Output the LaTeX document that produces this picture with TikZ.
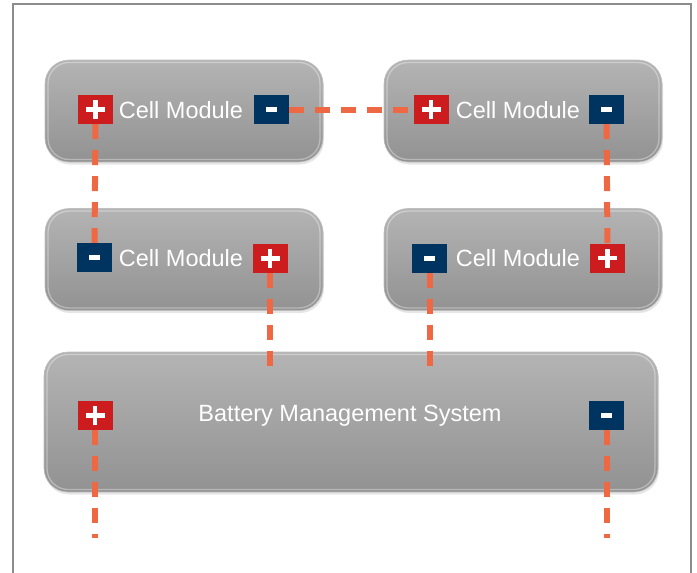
\documentclass[tikz,border=0pt]{standalone}
\usepackage{fontspec}
\setmainfont{Liberation Sans}
\usetikzlibrary{shadows}
\definecolor{wire}{RGB}{238,104,68}
\definecolor{plusred}{RGB}{204,28,30}
\definecolor{minusblue}{RGB}{0,52,96}
\definecolor{boxtop}{RGB}{180,180,180}
\definecolor{boxbot}{RGB}{146,146,146}
\definecolor{framegray}{RGB}{140,140,140}
\tikzset{
  module/.style={rounded corners=24pt, top color=boxtop, bottom color=boxbot,
    draw=gray!50, line width=0.6pt, inner sep=0pt,
    drop shadow={opacity=0.2, shadow xshift=1pt, shadow yshift=-2.5pt},
    path picture={
      \draw[white, opacity=0.35, line width=1.3pt, rounded corners=21pt]
        ([shift={(3pt,-2.5pt)}]path picture bounding box.north west) rectangle
        ([shift={(-3pt,2.5pt)}]path picture bounding box.south east);
    }},
  cellbox/.style={module, minimum width=278pt, minimum height=102pt},
  term/.style={minimum width=35pt, minimum height=29pt, inner sep=0pt, draw=none},
  pterm/.style={term, fill=plusred, path picture={
      \draw[white, line width=4.8pt]
        ([xshift=-9.5pt]path picture bounding box.center) -- ([xshift=9.5pt]path picture bounding box.center);
      \draw[white, line width=4.8pt]
        ([yshift=-9.5pt]path picture bounding box.center) -- ([yshift=9.5pt]path picture bounding box.center);}},
  mterm/.style={term, fill=minusblue, path picture={
      \draw[white, line width=5pt]
        ([xshift=-5.5pt]path picture bounding box.center) -- ([xshift=5.5pt]path picture bounding box.center);}},
  lbl/.style={text=white, font=\fontsize{23.5}{28}\selectfont, inner sep=0pt, anchor=base},
  wireline/.style={draw=wire, line width=6pt, dash pattern=on 15pt off 11pt}
}
\begin{document}
\begin{tikzpicture}[x=1pt, y=-1pt]
\useasboundingbox (0,0) rectangle (697,573);
% frame
\draw[framegray, line width=1.3pt] (13,575) -- (13,4) -- (691,4) -- (691,575);
% modules
\node[cellbox] (tl) at (184,111) {};
\node[cellbox] (tr) at (523,111) {};
\node[cellbox] (ml) at (184,259.5) {};
\node[cellbox] (mr) at (523,259.5) {};
\node[module, minimum width=614pt, minimum height=140pt] (bms) at (351,422) {};
% labels
\node[lbl] (tlt) at (181,118) {Cell Module};
\node[lbl] (trt) at (518,118) {Cell Module};
\node[lbl] (mlt) at (181,266) {Cell Module};
\node[lbl] (mrt) at (518,266) {Cell Module};
\node[lbl] (bmst) at (350,421) {Battery Management System};
% free wire ends
\coordinate (e1) at (270,366);
\coordinate (e2) at (429.5,366);
\coordinate (e3) at (95,538);
\coordinate (e4) at (606.5,538);
% terminals
\node[pterm] (tlp) at (95.5,109.5) {};
\node[mterm] (tlm) at (271.5,109.5) {};
\node[pterm] (trp) at (431,109.5) {};
\node[mterm] (trm) at (606.5,109.5) {};
\node[mterm] (mlm) at (94.5,257.5) {};
\node[pterm] (mlp) at (270,258.5) {};
\node[mterm] (mrm) at (429.5,258) {};
\node[pterm] (mrp) at (607.5,258) {};
\node[pterm] (bp) at (95,415.5) {};
\node[mterm] (bm) at (606.5,415.5) {};
% wires
\draw[wireline] (tlm.east) -- (trp.west);
\draw[wireline] (tlp.south) -- (mlm.north);
\draw[wireline] (trm.south) -- (mrp.north);
\draw[wireline] (mlp.south) -- (e1);
\draw[wireline] (mrm.south) -- (e2);
\draw[wireline] (bp.south) -- (e3);
\draw[wireline] (bm.south) -- (e4);
\end{tikzpicture}
\end{document}
